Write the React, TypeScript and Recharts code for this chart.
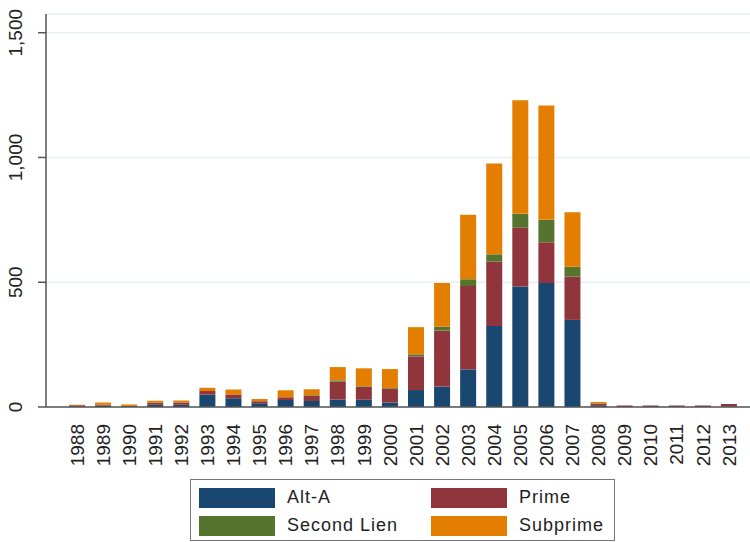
import { Bar, BarChart, CartesianGrid, XAxis, YAxis } from 'recharts'

const years = [
  '1988', '1989', '1990', '1991', '1992', '1993', '1994', '1995', '1996', '1997', '1998', '1999', '2000',
  '2001', '2002', '2003', '2004', '2005', '2006', '2007', '2008', '2009', '2010', '2011', '2012', '2013',
]
const altA = [1, 5, 1, 9, 9, 50, 35, 15, 28, 24, 30, 29, 18, 68, 82, 151, 325, 483, 497, 349, 7, 0, 0, 0, 0, 1]
const prime = [6, 4, 3, 8, 9, 14, 15, 8, 11, 20, 72, 52, 56, 134, 224, 334, 258, 236, 163, 174, 6, 6, 6, 6, 6, 11]
const secondLien = [0, 0, 0, 0, 0, 0, 0, 0, 0, 3, 5, 2, 2, 9, 16, 27, 29, 55, 90, 39, 0, 0, 0, 0, 0, 0]
const subprime = [2, 9, 6, 8, 8, 13, 20, 9, 28, 24, 53, 72, 76, 109, 175, 258, 364, 455, 458, 218, 7, 0, 0, 0, 0, 0]
const yTicks = [0, 500, 1000, 1500]

const series = [
  { key: 'altA', name: 'Alt-A', color: '#1a476f' },
  { key: 'prime', name: 'Prime', color: '#90353b' },
  { key: 'secondLien', name: 'Second Lien', color: '#55752f' },
  { key: 'subprime', name: 'Subprime', color: '#e37e00' },
]

const data = years.map((year, i) => ({
  year,
  altA: altA[i],
  prime: prime[i],
  secondLien: secondLien[i],
  subprime: subprime[i],
}))

const font = '"Liberation Sans Narrow", "Liberation Sans", Arial, sans-serif'

function YTick({ x, y, payload }: any) {
  return (
    <text
      x={x - 21}
      y={y}
      dy="0.35em"
      transform={`rotate(-90, ${x - 21}, ${y})`}
      textAnchor="middle"
      fontFamily={font}
      fontSize={19}
      fill="#222"
    >
      {payload.value.toLocaleString('en-US')}
    </text>
  )
}

function XTick({ x, y, payload }: any) {
  return (
    <text
      x={x}
      y={y + 9}
      dy="0.35em"
      transform={`rotate(-90, ${x}, ${y + 9})`}
      textAnchor="end"
      fontFamily={font}
      fontSize={19}
      fill="#222"
    >
      {payload.value}
    </text>
  )
}

function LegendBox() {
  const rows = [
    [series[0], series[1]],
    [series[2], series[3]],
  ]
  return (
    <div
      style={{
        position: 'absolute',
        left: 190,
        top: 479,
        width: 425,
        height: 62,
        border: '1px solid #777',
        boxSizing: 'border-box',
        background: '#fff',
        fontFamily: font,
        fontSize: 18,
        color: '#222',
      }}
    >
      {rows.map((row, r) =>
        row.map((s, c) => (
          <div
            key={s.key}
            style={{
              position: 'absolute',
              left: 8 + c * 232,
              top: 7 + r * 28,
              display: 'flex',
              alignItems: 'center',
            }}
          >
            <div style={{ width: 76, height: 20, background: s.color }} />
            <span style={{ marginLeft: 12, letterSpacing: 1 }}>{s.name}</span>
          </div>
        ))
      )}
    </div>
  )
}

export default function App() {
  return (
    <div style={{ position: 'relative', width: 750, height: 542, background: '#fff', overflow: 'hidden' }}>
      <style>{'body { margin: 0; }'}</style>
      <BarChart
        width={750}
        height={542}
        data={data}
        margin={{ top: 14, right: 0, left: 0, bottom: 0 }}
        barSize={16}
      >
        <CartesianGrid vertical={false} stroke="#e8f0f0" strokeWidth={1.5} />
        <XAxis
          dataKey="year"
          height={135}
          interval={0}
          padding={{ left: 18, right: 8 }}
          tick={<XTick />}
          tickLine={false}
          axisLine={{ stroke: '#555', strokeWidth: 1.5 }}
        />
        <YAxis
          width={46}
          domain={[0, 1575]}
          ticks={yTicks}
          allowDataOverflow
          tick={<YTick />}
          tickSize={8}
          tickLine={{ stroke: '#555', strokeWidth: 1.5 }}
          axisLine={{ stroke: '#555', strokeWidth: 1.5 }}
        />
        {series.map((s) => (
          <Bar key={s.key} dataKey={s.key} name={s.name} stackId="a" fill={s.color} isAnimationActive={false} />
        ))}
      </BarChart>
      <LegendBox />
    </div>
  )
}
